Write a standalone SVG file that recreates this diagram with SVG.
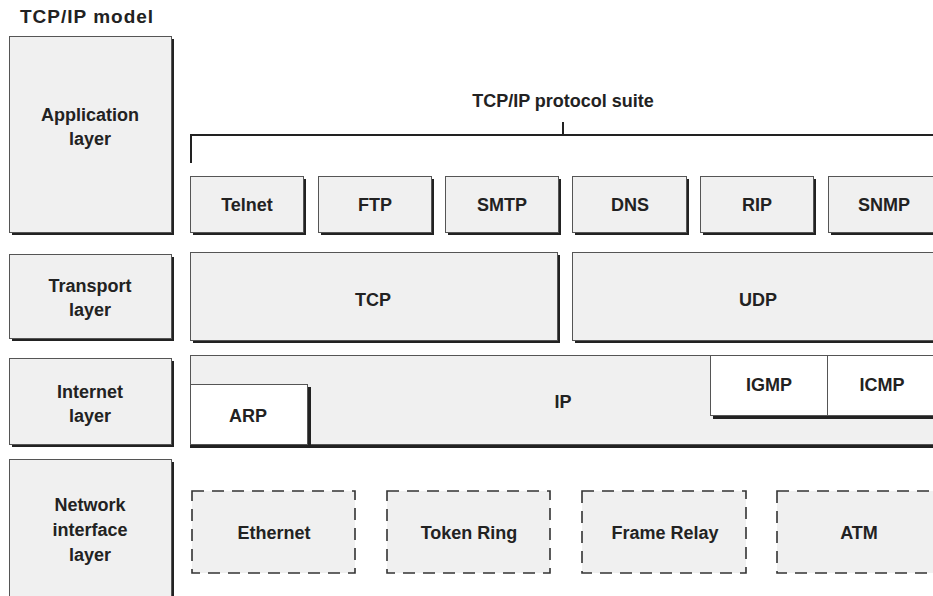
<svg xmlns="http://www.w3.org/2000/svg" width="933" height="596" viewBox="0 0 933 596">
<style>
text{font-family:"Liberation Sans",Arial,sans-serif;font-weight:bold;font-size:18px;fill:#222;text-anchor:middle}
.t{text-anchor:start;font-size:19px;letter-spacing:1px}
.sh{fill:#222}
.bx{fill:#f0f0f0;stroke:#555;stroke-width:1}
.wb{fill:#fff;stroke:#555;stroke-width:1}
.ds{fill:#f0f0f0;stroke:#333;stroke-width:1.6;stroke-dasharray:12 8}
.ln{stroke:#222;stroke-width:2;fill:none}
</style>
<rect width="933" height="596" fill="#fff"/>
<text class="t" x="20" y="23">TCP/IP model</text>

<g id="app-layer"><rect class="sh" x="12" y="39" width="162" height="196"/><rect class="bx" x="9.5" y="36.5" width="162" height="196"/><text x="90" y="121">Application</text><text x="90" y="145">layer</text></g>
<g id="transport-layer"><rect class="sh" x="12" y="257" width="162" height="84"/><rect class="bx" x="9.5" y="254.5" width="162" height="84"/><text x="90" y="292">Transport</text><text x="90" y="316">layer</text></g>
<g id="internet-layer"><rect class="sh" x="12" y="361" width="162" height="86"/><rect class="bx" x="9.5" y="358.5" width="162" height="86"/><text x="90" y="398">Internet</text><text x="90" y="422">layer</text></g>
<g id="network-layer"><rect class="sh" x="12" y="462" width="162" height="150"/><rect class="bx" x="9.5" y="459.5" width="162" height="150"/><text x="90" y="511">Network</text><text x="90" y="536">interface</text><text x="90" y="561">layer</text></g>

<g id="connectors">
<path class="ln" d="M191 163V135H933M563 122V135"/>
</g>
<text x="563" y="107">TCP/IP protocol suite</text>

<g id="telnet"><rect class="sh" x="193" y="179" width="113" height="56"/><rect class="bx" x="190.5" y="176.5" width="113" height="56"/><text x="247" y="211">Telnet</text></g>
<g id="ftp"><rect class="sh" x="321" y="179" width="113" height="56"/><rect class="bx" x="318.5" y="176.5" width="113" height="56"/><text x="375" y="211">FTP</text></g>
<g id="smtp"><rect class="sh" x="448" y="179" width="113" height="56"/><rect class="bx" x="445.5" y="176.5" width="113" height="56"/><text x="502" y="211">SMTP</text></g>
<g id="dns"><rect class="sh" x="575" y="179" width="114" height="56"/><rect class="bx" x="572.5" y="176.5" width="114" height="56"/><text x="630" y="211">DNS</text></g>
<g id="rip"><rect class="sh" x="703" y="179" width="113" height="56"/><rect class="bx" x="700.5" y="176.5" width="113" height="56"/><text x="757" y="211">RIP</text></g>
<g id="snmp"><rect class="sh" x="831" y="179" width="113" height="56"/><rect class="bx" x="828.5" y="176.5" width="113" height="56"/><text x="884" y="211">SNMP</text></g>

<g id="tcp"><rect class="sh" x="193" y="255" width="367" height="88"/><rect class="bx" x="190.5" y="252.5" width="367" height="88"/><text x="373" y="306">TCP</text></g>
<g id="udp"><rect class="sh" x="575" y="255" width="380" height="88"/><rect class="bx" x="572.5" y="252.5" width="380" height="88"/><text x="758" y="306">UDP</text></g>

<g id="ip"><rect class="sh" x="190" y="358" width="760" height="90"/><rect class="bx" x="190.5" y="355.5" width="760" height="89"/><text x="563" y="408">IP</text></g>
<g id="arp"><rect class="sh" x="307" y="387" width="4" height="58"/><rect class="wb" x="190.5" y="384.5" width="117" height="60"/><text x="248" y="422">ARP</text></g>
<g id="igmp"><rect class="sh" x="713" y="358" width="240" height="61"/><rect class="wb" x="710.5" y="355.5" width="117" height="60"/><text x="769" y="391">IGMP</text></g>
<g id="icmp"><rect class="wb" x="827.5" y="355.5" width="120" height="60"/><text x="882" y="391">ICMP</text></g>

<g id="ethernet"><rect class="ds" x="192" y="491" width="163" height="82"/><text x="274" y="539">Ethernet</text></g>
<g id="token-ring"><rect class="ds" x="387" y="491" width="163" height="82"/><text x="469" y="539">Token Ring</text></g>
<g id="frame-relay"><rect class="ds" x="582" y="491" width="164" height="82"/><text x="665" y="539">Frame Relay</text></g>
<g id="atm"><rect class="ds" x="777" y="491" width="164" height="82"/><text x="859" y="539">ATM</text></g>
</svg>
